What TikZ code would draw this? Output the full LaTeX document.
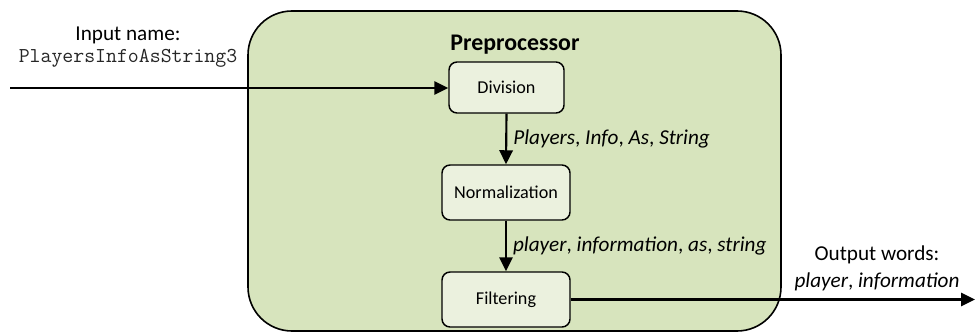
\documentclass[tikz,border=0pt]{standalone}
\usepackage{fontspec}
\setmainfont{Carlito}
\usetikzlibrary{arrows.meta}
\definecolor{bigfill}{HTML}{D7E4BD}
\definecolor{boxfill}{HTML}{EBF1DE}
\tikzset{
  bigbox/.style={draw=black, line width=1.2pt, fill=bigfill, rounded corners=33pt, inner sep=0pt},
  stepbox/.style={draw=black, line width=1.1pt, fill=boxfill, rounded corners=6pt, font=\fontsize{13.6}{16}\selectfont, inner sep=0pt},
  arr/.style={line width=1.6pt, -{Triangle[length=10.5pt,width=10pt]}},
  lbl/.style={font=\fontsize{15.9}{19}\selectfont, inner sep=0pt},
}
\begin{document}
\begin{tikzpicture}[x=0.75pt,y=-0.75pt]
\useasboundingbox (0,0) rectangle (975,332);
\node[bigbox, minimum width=399.75pt, minimum height=240pt] (pre) at (514.5,171) {};
\node[font=\fontsize{17.9}{21}\selectfont\bfseries, inner sep=0pt] (title) at (515,45) {Preprocessor};
\node[stepbox, minimum width=86.25pt, minimum height=38.25pt] (div) at (506.5,87.5) {Division};
\node[stepbox, minimum width=96pt, minimum height=41.25pt] (norm) at (506,192.5) {Normalization};
\node[stepbox, minimum width=96pt, minimum height=41.25pt] (filt) at (506,299.5) {Filtering};
\node[lbl] (inlbl) at (128,35) {Input name:};
\node[font=\fontsize{15.9}{18}\selectfont\ttfamily, text=black!85, inner sep=0pt] (inname) at (128,58) {PlayersInfoAsString3};
\node[lbl] (outlbl) at (877,255) {Output words:};
\node[lbl] (outwords) at (877,282) {\textit{player}, \textit{information}};
\coordinate (in) at (10,88);
\coordinate (out) at (975,299.5);
\draw[arr] (in) -- (in -| div.west);
\draw[arr] (div.south) -- node[lbl, right, xshift=4.5pt] (l1) {\textit{Players}, \textit{Info}, \textit{As}, \textit{String}} (norm.north);
\draw[arr] (norm.south) -- node[lbl, right, xshift=4.5pt] (l2) {\textit{player}, \textit{information}, \textit{as}, \textit{string}} (filt.north);
\draw[arr] (filt.east) -- (out);
\end{tikzpicture}
\end{document}
